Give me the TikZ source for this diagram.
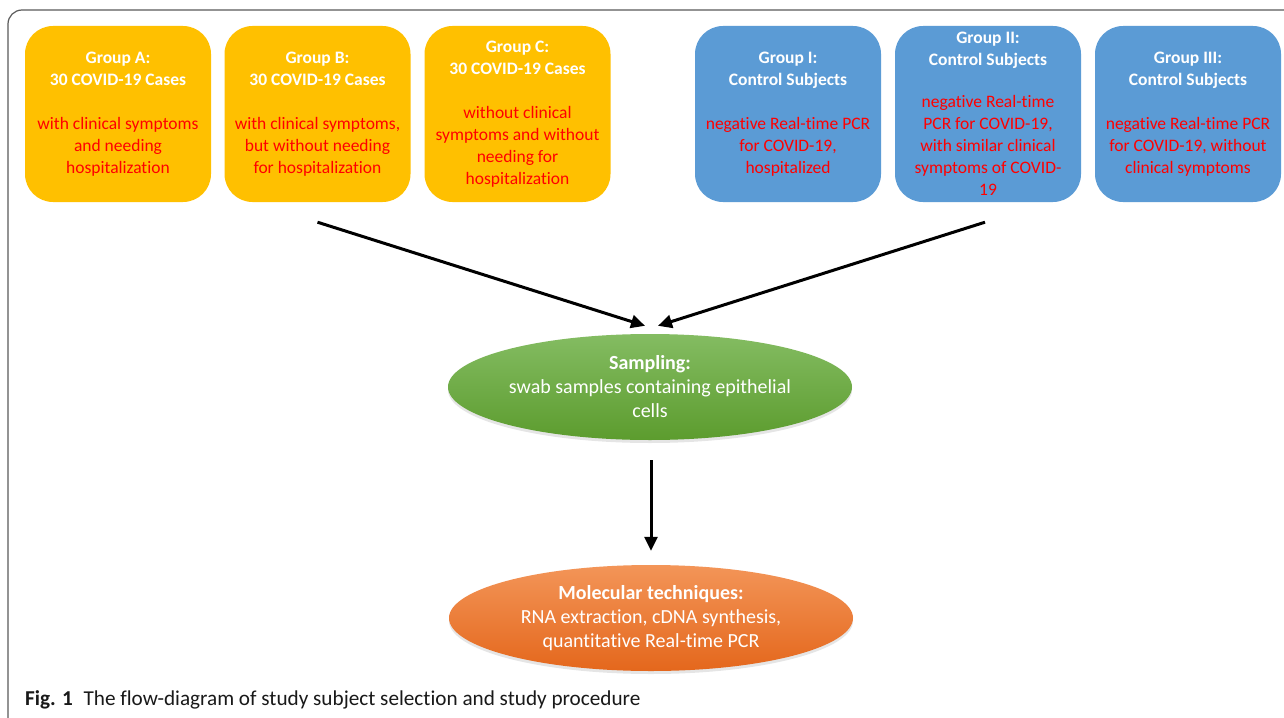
\documentclass[tikz,border=0pt]{standalone}
\usepackage{fontspec}
\setmainfont{Carlito}[Ligatures=NoCommon]
\usetikzlibrary{arrows.meta,shapes.geometric,shadows,calc}
\definecolor{boxyellow}{HTML}{FFC000}
\definecolor{boxblue}{HTML}{5B9BD5}
\definecolor{txtred}{HTML}{FF0000}
\definecolor{greenTop}{HTML}{84BC62}
\definecolor{greenBot}{HTML}{5C9C2E}
\definecolor{orTop}{HTML}{F39558}
\definecolor{orBot}{HTML}{E4671C}
\definecolor{framegray}{HTML}{5A5A5A}
\newcommand\grpttl[1]{\textcolor{white}{\textbf{#1}}}
\newcommand\grpdsc[1]{\textcolor{txtred}{#1}}
\begin{document}
\begin{tikzpicture}[x=1pt,y=-1pt,
  grp/.style={rounded corners=28pt, minimum width=186pt, minimum height=176pt,
    inner sep=0pt, align=center, font=\fontsize{17.5}{22}\selectfont},
  casebox/.style={grp, fill=boxyellow},
  ctrlbox/.style={grp, fill=boxblue},
  oval/.style={ellipse, minimum width=404pt, minimum height=106pt, inner sep=0pt,
    align=center, text=white, font=\fontsize{20}{24}\selectfont,
    drop shadow={shadow xshift=0pt, shadow yshift=-3pt, opacity=0.2}},
  conn/.style={line width=3pt, -{Triangle[length=14pt,width=13pt]}}
]
\useasboundingbox (0,0) rectangle (1284,717);
\fill[white] (0,0) rectangle (1284,717);
\draw[framegray, line width=1.2pt, rounded corners=14pt] (8,720) -- (8,10) -- (1290,10);

\node[casebox] (A) at (118,114) {\grpttl{Group A:}\\\grpttl{30 COVID-19 Cases}\\[22pt]
  \grpdsc{with clinical symptoms}\\\grpdsc{and needing}\\\grpdsc{hospitalization}};
\node[casebox] (B) at (317.5,114) {\grpttl{Group B:}\\\grpttl{30 COVID-19 Cases}\\[22pt]
  \grpdsc{with clinical symptoms,}\\\grpdsc{but without needing}\\\grpdsc{for hospitalization}};
\node[casebox] (C) at (517.5,114) {\grpttl{Group C:}\\\grpttl{30 COVID-19 Cases}\\[22pt]
  \grpdsc{without clinical}\\\grpdsc{symptoms and without}\\\grpdsc{needing for}\\\grpdsc{hospitalization}};
\node[ctrlbox] (I) at (788,114) {\grpttl{Group I:}\\\grpttl{Control Subjects}\\[22pt]
  \grpdsc{negative Real-time PCR}\\\grpdsc{for COVID-19,}\\\grpdsc{hospitalized}};
\node[ctrlbox] (II) at (988,114) {\grpttl{Group II:}\\\grpttl{Control Subjects}\\[20pt]
  \grpdsc{negative Real-time}\\\grpdsc{PCR for COVID-19,}\\\grpdsc{with similar clinical}\\\grpdsc{symptoms of COVID-}\\\grpdsc{19}};
\node[ctrlbox] (III) at (1188,114) {\grpttl{Group III:}\\\grpttl{Control Subjects}\\[22pt]
  \grpdsc{negative Real-time PCR}\\\grpdsc{for COVID-19, without}\\\grpdsc{clinical symptoms}};

\node[oval, top color=greenTop, bottom color=greenBot] (S) at (650,387)
  {\textbf{Sampling:}\\swab samples containing epithelial\\cells};
\node[oval, top color=orTop, bottom color=orBot] (M) at (651,618)
  {\textbf{Molecular techniques:}\\RNA extraction, cDNA synthesis,\\quantitative Real-time PCR};

\draw[conn] ($(B.south)+(0,20)$) -- ($(S.north)+(-5,-8)$);
\draw[conn] ($(II.south)+(-3,20)$) -- ($(S.north)+(8,-8)$);
\draw[conn] ($(S.south)+(1,20)$) -- ($(M.north)+(0,-14)$);

\node[anchor=base west, inner sep=0pt, text=black!90,
  font=\fontsize{21.2}{24}\selectfont] (cap) at (25,705)
  {\textbf{Fig. 1}\enspace The flow-diagram of study subject selection and study procedure};
\end{tikzpicture}
\end{document}
